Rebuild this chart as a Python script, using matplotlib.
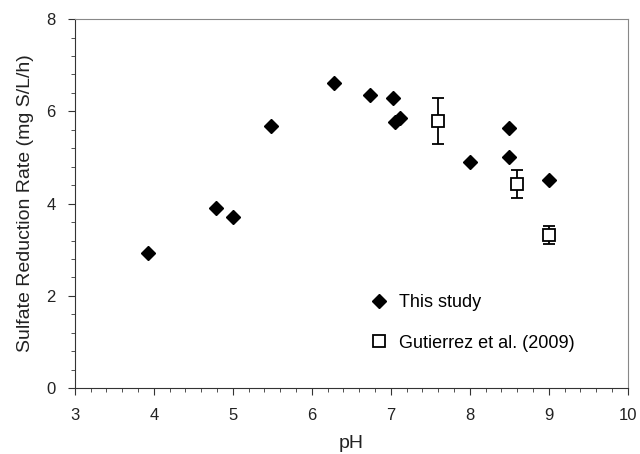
import matplotlib
matplotlib.use("Agg")
import matplotlib.pyplot as plt
from matplotlib.ticker import MultipleLocator
from matplotlib.lines import Line2D

plt.rcParams['font.family'] = ['Liberation Sans', 'DejaVu Sans']

# this study
ph_study = [3.92, 4.79, 5.0, 5.48, 6.28, 6.73, 7.03, 7.05, 7.12, 8.0, 8.5, 8.5, 9.0]
rate_study = [2.93, 3.90, 3.70, 5.69, 6.62, 6.35, 6.30, 5.77, 5.85, 4.90, 5.63, 5.01, 4.51]

# Gutierrez et al. (2009)
ph_gut = [7.6, 8.6, 9.0]
rate_gut = [5.8, 4.42, 3.32]
err_gut = [0.5, 0.3, 0.19]

fig = plt.figure(figsize=(6.4, 4.54), dpi=100)
ax = fig.add_axes([0.117, 0.145, 0.864, 0.813])

ax.plot(ph_study, rate_study, 'D', color='black', ms=7.5, ls='none')
ax.errorbar(ph_gut, rate_gut, yerr=err_gut, fmt='s', mfc='white', mec='black', mew=1.3,
            ms=8, ecolor='black', elinewidth=1.3, capsize=4.5, capthick=1.3)

ax.set_xlim(3, 10)
ax.set_ylim(0, 8)
ax.xaxis.set_major_locator(MultipleLocator(1))
ax.xaxis.set_minor_locator(MultipleLocator(0.2))
ax.yaxis.set_major_locator(MultipleLocator(2))
ax.yaxis.set_minor_locator(MultipleLocator(0.4))
ax.tick_params(which='both', direction='out', top=False, right=False, colors='#333333',
               labelsize=12, labelcolor='#222222')
ax.tick_params(which='major', length=5, pad=9)
ax.tick_params(which='minor', length=3)
for s in ['left', 'bottom']:
    ax.spines[s].set_color('#333333')
for s in ['top', 'right']:
    ax.spines[s].set_color('#888888')

ax.set_xlabel('pH', fontsize=14, color='#222222', labelpad=9)
ax.set_ylabel('Sulfate Reduction Rate (mg S/L/h)', fontsize=14, color='#222222', labelpad=9)

handles = [
    Line2D([], [], marker='D', color='black', ms=7, ls='none'),
    Line2D([], [], marker='s', mfc='white', mec='black', mew=1.3, ms=8, ls='none'),
]
ax.legend(handles, ['This study', 'Gutierrez et al. (2009)'], loc='lower left',
          bbox_to_anchor=(0.505, 0.055), frameon=False, fontsize=13,
          handletextpad=0.6, labelspacing=1.3, handlelength=1.0)

fig.savefig('out.png', dpi=100)
